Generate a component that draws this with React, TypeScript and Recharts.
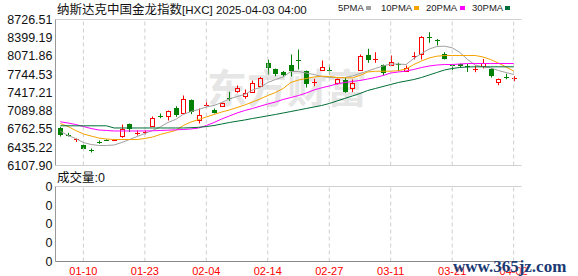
import React from 'react';
import { ComposedChart, Bar, Line, XAxis, YAxis, CartesianGrid, ReferenceLine } from 'recharts';

const dates = ['01-06','01-07','01-08','01-10','01-13','01-14','01-15','01-16','01-17','01-21','01-22','01-23','01-24','01-27','01-28','01-29','01-30','01-31','02-03','02-04','02-05','02-06','02-07','02-10','02-11','02-12','02-13','02-14','02-18','02-19','02-20','02-21','02-24','02-25','02-26','02-27','02-28','03-03','03-04','03-05','03-06','03-07','03-10','03-11','03-12','03-13','03-14','03-17','03-18','03-19','03-20','03-21','03-24','03-25','03-26','03-27','03-28','03-31','04-01','04-02'];

const open = [6784,6669,6587,6467,6386,6538,6574,6562,6633,6856,6694,6703,6825,6999,6987,7148,7053,7286,6920,7197,7100,7179,7327,7440,7351,7430,7530,7950,7842,7788,7919,8004,7799,7606,7817,7824,7591,7638,7494,7817,8081,8022,7910,7914,7928,7794,8072,8104,8422,8377,8099,7907,7925,7889,7839,7884,7842,7606,7704,7677];
const high = [6798,6694,6592,6485,6413,6556,6578,6574,6843,6861,6736,6736,6987,7041,7094,7171,7363,7292,7130,7292,7130,7238,7430,7543,7471,7632,7695,8009,7848,7803,8099,8188,7812,7663,7991,7919,7668,7681,7650,8099,8201,8140,7919,8081,7950,7901,8140,8427,8499,8377,8140,7910,7937,7928,7901,8018,7848,7668,7753,7710];
const low = [6628,6628,6529,6382,6341,6497,6560,6556,6605,6709,6646,6664,6807,6956,6915,6981,7028,7028,6861,7143,7041,7171,7268,7412,7304,7430,7525,7740,7710,7704,7704,7830,7507,7530,7812,7740,7561,7412,7423,7812,7950,7950,7722,7914,7799,7794,8009,8009,8309,8260,8009,7817,7866,7785,7781,7848,7686,7548,7654,7620];
const close = [6651,6658,6592,6400,6377,6526,6565,6571,6768,6757,6703,6712,6963,6990,7089,7005,7304,7076,7005,7205,7053,7232,7315,7501,7412,7591,7681,7848,7745,7727,7794,7991,7561,7614,7878,7812,7663,7423,7579,8068,8009,8032,7771,7964,7919,7860,8081,8404,8409,8355,8027,7898,7889,7880,7848,7941,7710,7665,7695,7686];

const ma5 = [6723,6646,6592,6520,6485,6467,6467,6476,6520,6574,6628,6682,6736,6798,6879,6933,7023,7076,7112,7157,7184,7238,7301,7345,7381,7462,7507,7597,7650,7695,7794,7794,7767,7740,7704,7686,7681,7686,7713,7758,7803,7848,7893,7928,7928,7919,8027,8117,8197,8242,8248,8219,8135,8009,7910,7878,7860,7812,7776,7740];
const ma10 = [6861,6807,6736,6673,6637,6601,6583,6574,6574,6574,6574,6592,6619,6664,6700,6736,6825,6888,6933,6978,7023,7067,7103,7148,7193,7247,7301,7363,7417,7489,7597,7641,7668,7695,7710,7704,7686,7681,7681,7722,7785,7799,7799,7799,7808,7839,7919,7982,8036,8068,8081,8081,8081,8081,8081,8054,8009,7946,7875,7803];
const ma20 = [6892,6870,6843,6807,6771,6745,6736,6727,6727,6727,6727,6727,6730,6736,6741,6748,6754,6763,6780,6825,6879,6942,6996,7050,7094,7130,7171,7211,7247,7292,7327,7363,7408,7462,7501,7534,7570,7597,7614,7632,7659,7686,7722,7767,7785,7803,7830,7865,7892,7910,7919,7919,7928,7937,7937,7937,7937,7937,7937,7937];
const ma30 = [6820,6820,6820,6820,6820,6820,6820,6781,6781,6781,6781,6781,6781,6781,6781,6781,6781,6786,6793,6807,6825,6852,6879,6902,6924,6951,6974,6999,7023,7050,7076,7103,7130,7157,7184,7220,7265,7310,7354,7399,7453,7489,7525,7561,7597,7623,7650,7686,7731,7776,7821,7848,7866,7875,7878,7878,7878,7878,7878,7878];
const volume = [0,0,0,0,0,0,0,0,0,0,0,0,0,0,0,0,0,0,0,0,0,0,0,0,0,0,0,0,0,0,0,0,0,0,0,0,0,0,0,0,0,0,0,0,0,0,0,0,0,0,0,0,0,0,0,0,0,0,0,0];

const priceTicks = [6107.90, 6435.22, 6762.55, 7089.88, 7417.21, 7744.53, 8071.86, 8399.19, 8726.51];
const labelDates = ['01-10','01-23','02-04','02-14','02-27','03-11','03-21','04-02'];
const volumeTicks = [0, 1, 2, 3, 4];
const volumeTickLabels = ['0','0','0','0','0'];

const titleCn = '纳斯达克中国金龙指数';
const titleEn = '[HXC] 2025-04-03 04:00';
const legendNames = ['5PMA','10PMA','20PMA','30PMA'];
const maColors = ['#a0a0a0', '#f5a300', '#ff00ff', '#006f37'];

const rows = dates.map((d, i) => ({
  date: d,
  o: open[i], h: high[i], l: low[i], c: close[i],
  range: [low[i], high[i]],
  ma5: ma5[i], ma10: ma10[i], ma20: ma20[i], ma30: ma30[i],
  vol: volume[i],
}));

const RED = '#ff0000';
const GREEN = '#008000';

const Candle = (props: any) => {
  const { x, y, width, height, payload } = props;
  if (x == null || y == null || !payload) return null;
  const top = Math.min(y, y + height);
  const hpx = Math.abs(height);
  const { o, h: hi, l: lo, c } = payload;
  const k = hi - lo > 0 ? hpx / (hi - lo) : 0;
  const py = (v: number) => top + (hi - v) * k;
  const cx = Math.round(x + width / 2);
  const up = c >= o;
  const color = up ? RED : GREEN;
  const bt = py(Math.max(o, c));
  const bb = py(Math.min(o, c));
  const yHi = py(hi);
  const yLo = py(lo);
  const wx = cx + 0.5;
  if (bb - bt < 1.6) {
    const yy = Math.round((bt + bb) / 2) + 0.5;
    return (
      <g>
        <line x1={wx} x2={wx} y1={yHi} y2={yLo} stroke={color} strokeWidth={1} />
        <line x1={cx - 2} x2={cx + 3} y1={yy} y2={yy} stroke={color} strokeWidth={1} />
      </g>
    );
  }
  if (up) {
    const rt = Math.round(bt) + 0.5;
    const rb = Math.round(bb) + 0.5;
    return (
      <g>
        <line x1={wx} x2={wx} y1={yHi} y2={rt} stroke={color} strokeWidth={1} />
        <line x1={wx} x2={wx} y1={rb} y2={yLo} stroke={color} strokeWidth={1} />
        <rect x={cx - 1.5} y={rt} width={4} height={rb - rt} fill="none" stroke={color} strokeWidth={1} />
      </g>
    );
  }
  const rt = Math.round(bt);
  const rb = Math.round(bb);
  return (
    <g>
      <line x1={wx} x2={wx} y1={yHi} y2={yLo} stroke={color} strokeWidth={1} />
      <rect x={cx - 2} y={rt} width={5} height={Math.max(1, rb - rt)} fill={color} />
    </g>
  );
};

const tickFont = { fontFamily: 'Liberation Sans, Arial, sans-serif', fontSize: 12.5, fill: '#111' };

export default function App() {
  return (
    <div style={{ position: 'absolute', left: 0, top: 0, width: 578, height: 276, overflow: 'hidden', background: '#fff' }}>
      {/* faint watermark */}
      <div style={{ position: 'absolute', left: 207, top: 62, fontFamily: 'Noto Sans CJK SC', fontSize: 40, fontWeight: 700, color: '#e6e6e6', lineHeight: '48px', whiteSpace: 'nowrap' }}>东方财富</div>

      {/* title */}
      <div style={{ position: 'absolute', left: 57, top: 1, height: 16, lineHeight: '16px', whiteSpace: 'nowrap', color: '#111' }}>
        <span style={{ fontFamily: 'Noto Sans CJK SC', fontSize: 12.5 }}>{titleCn}</span>
        <span style={{ fontFamily: 'Liberation Sans', fontSize: 11.5 }}>{titleEn}</span>
      </div>

      {/* legend */}
      {legendNames.map((n, i) => {
        const tx = [338, 381, 426, 472][i];
        const sx = [366, 414, 460, 505][i];
        return (
          <React.Fragment key={n}>
            <div style={{ position: 'absolute', left: tx, top: 0, lineHeight: '16px', fontFamily: 'Liberation Sans', fontSize: 9.5, color: '#222', whiteSpace: 'nowrap' }}>{n}</div>
            <div style={{ position: 'absolute', left: sx, top: 6, width: 5, height: 4, background: maColors[i] }} />
          </React.Fragment>
        );
      })}

      {/* main chart */}
      <div style={{ position: 'absolute', left: 0, top: 0 }}>
        <ComposedChart width={578} height={176} data={rows} margin={{ top: 19.5, right: 56.5, bottom: 10.5, left: 0 }}>
          <CartesianGrid horizontal={true} vertical={false} stroke="#d0d0d0" />
          <XAxis dataKey="date" type="category" hide padding={{ left: 1, right: 4 }} />
          <YAxis
            yAxisId="p"
            type="number"
            domain={[6107.90, 8726.51]}
            ticks={priceTicks}
            interval={0}
            width={55.5}
            tickLine={false}
            tickSize={1}
            tickMargin={2}
            axisLine={{ stroke: '#999' }}
            tick={tickFont}
            tickFormatter={(v: number) => v.toFixed(2)}
          />
          <YAxis yAxisId="r" orientation="right" width={0} domain={[0, 1]} tick={false} tickLine={false} axisLine={{ stroke: '#999' }} />
          {labelDates.map((d) => (
            <ReferenceLine key={d} yAxisId="p" x={d} stroke="#cfcfcf" strokeDasharray="4 3" />
          ))}
          <Line yAxisId="p" dataKey="ma5" stroke={maColors[0]} strokeWidth={1} dot={false} activeDot={false} isAnimationActive={false} />
          <Line yAxisId="p" dataKey="ma10" stroke={maColors[1]} strokeWidth={1} dot={false} activeDot={false} isAnimationActive={false} />
          <Line yAxisId="p" dataKey="ma20" stroke={maColors[2]} strokeWidth={1} dot={false} activeDot={false} isAnimationActive={false} />
          <Line yAxisId="p" dataKey="ma30" stroke={maColors[3]} strokeWidth={1} dot={false} activeDot={false} isAnimationActive={false} />
          <Bar yAxisId="p" dataKey="range" shape={Candle} isAnimationActive={false} />
        </ComposedChart>
      </div>

      {/* volume label */}
      <div style={{ position: 'absolute', left: 57, top: 170, lineHeight: '14px', whiteSpace: 'nowrap', color: '#111' }}>
        <span style={{ fontFamily: 'Noto Sans CJK SC', fontSize: 12.5 }}>成交量</span>
        <span style={{ fontFamily: 'Liberation Sans', fontSize: 12.5 }}>:0</span>
      </div>

      {/* volume chart */}
      <div style={{ position: 'absolute', left: 0, top: 180 }}>
        <ComposedChart width={578} height={96} data={rows} margin={{ top: 6.5, right: 56.5, bottom: 0, left: 0 }}>
          <CartesianGrid horizontal={true} vertical={false} stroke="#d0d0d0" />
          <XAxis
            dataKey="date"
            type="category"
            ticks={labelDates}
            interval={0}
            height={14.5}
            padding={{ left: 1, right: 4 }}
            tickLine={false}
            tickSize={0}
            tickMargin={6}
            axisLine={{ stroke: '#888' }}
            tick={{ fontFamily: 'Liberation Sans, Arial, sans-serif', fontSize: 11, fill: '#ff0000' }}
          />
          <YAxis
            yAxisId="v"
            type="number"
            domain={[0, 4]}
            ticks={volumeTicks}
            interval={0}
            width={55.5}
            tickLine={false}
            tickSize={1}
            tickMargin={2}
            axisLine={{ stroke: '#999' }}
            tick={tickFont}
            tickFormatter={(_v: number, i: number) => volumeTickLabels[i]}
          />
          <YAxis yAxisId="r" orientation="right" width={0} domain={[0, 1]} tick={false} tickLine={false} axisLine={{ stroke: '#999' }} />
          {labelDates.map((d) => (
            <ReferenceLine key={d} yAxisId="v" x={d} stroke="#cfcfcf" strokeDasharray="4 3" />
          ))}
          <Bar yAxisId="v" dataKey="vol" fill={GREEN} isAnimationActive={false} />
        </ComposedChart>
      </div>

      {/* site watermark */}
      <div style={{ position: 'absolute', left: 453, top: 257, lineHeight: '20px', fontFamily: 'Liberation Serif', fontWeight: 700, fontSize: 17, color: '#1b3a73', whiteSpace: 'nowrap', textShadow: '0 0 2px #fff' }}>www.365jz.com</div>
    </div>
  );
}
